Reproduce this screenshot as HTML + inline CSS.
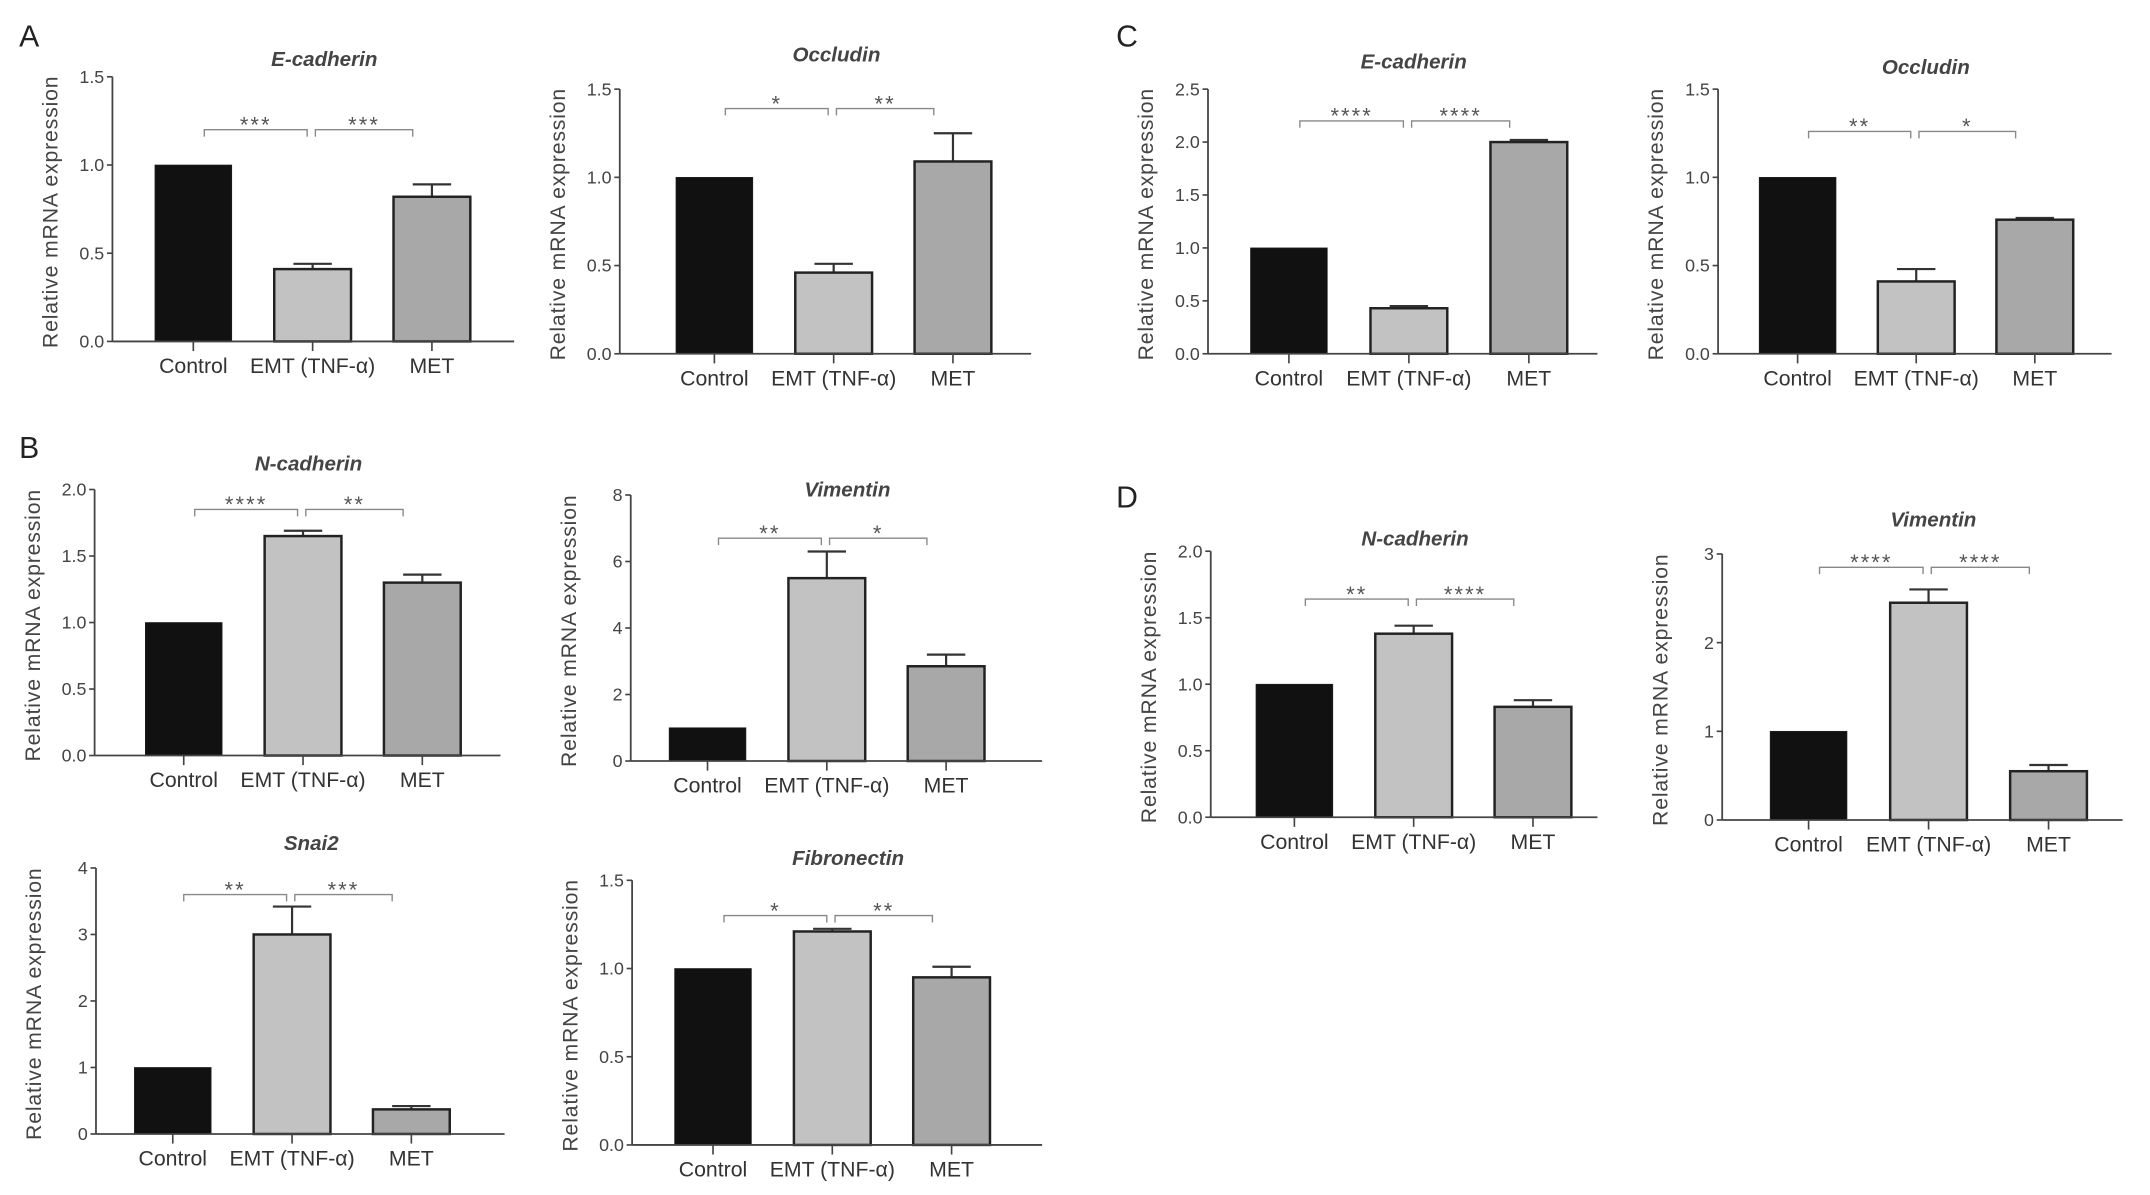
<!DOCTYPE html>
<html><head><meta charset="utf-8">
<style>
html,body{margin:0;padding:0;background:#fff;}
svg{display:block;}
text{font-family:"Liberation Sans",Arial,sans-serif;}
</style></head>
<body>
<svg id="fig" width="2150" height="1195" viewBox="0 0 1568 871.5" preserveAspectRatio="none" xmlns="http://www.w3.org/2000/svg">
<text x="14" y="34" font-size="22" fill="#222">A</text>
<text x="14" y="334" font-size="22" fill="#222">B</text>
<text x="814" y="34" font-size="22" fill="#222">C</text>
<text x="814" y="370" font-size="22" fill="#222">D</text>
</svg>
<script>
const categories = ["Control", "EMT (TNF-\u03b1)", "MET"];
const titles = ["E-cadherin","Occludin","N-cadherin","Vimentin","Snai2","Fibronectin","E-cadherin","Occludin","N-cadherin","Vimentin"];
const means = [[1,0.41,0.82],[1,0.46,1.09],[1,1.65,1.30],[1,5.5,2.85],[1,3.0,0.37],[1,1.21,0.95],[1,0.43,2.0],[1,0.41,0.76],[1,1.38,0.83],[1,2.45,0.55]];
const errs = [[0,0.03,0.07],[0,0.05,0.16],[0,0.04,0.06],[0,0.8,0.35],[0,0.42,0.05],[0,0.015,0.06],[0,0.02,0.02],[0,0.07,0.01],[0,0.06,0.05],[0,0.15,0.07]];
const yMax = [1.5,1.5,2.0,8,4,1.5,2.5,1.5,2.0,3];
const tickLabels = [["0.0","0.5","1.0","1.5"],["0.0","0.5","1.0","1.5"],["0.0","0.5","1.0","1.5","2.0"],["0","2","4","6","8"],["0","1","2","3","4"],["0.0","0.5","1.0","1.5"],["0.0","0.5","1.0","1.5","2.0","2.5"],["0.0","0.5","1.0","1.5"],["0.0","0.5","1.0","1.5","2.0"],["0","1","2","3"]];
const sigLeft = ["***","*","****","**","**","*","****","**","**","****"];
const sigRight = ["***","**","**","*","***","**","****","*","****","****"];
const bracketVal = [1.2,1.39,1.85,6.7,3.6,1.3,2.2,1.26,1.64,2.85];

const layout = [
 {ax:82,top:56,bot:249,end:375,c0:141,dc:87,ty:48},
 {ax:452,top:65,bot:258,end:752,c0:521,dc:87,ty:45},
 {ax:69,top:357,bot:551,end:365,c0:134,dc:87,ty:343},
 {ax:460,top:361,bot:555,end:760,c0:516,dc:87,ty:362},
 {ax:70,top:633,bot:827,end:368,c0:126,dc:87,ty:620},
 {ax:461,top:642,bot:835,end:760,c0:520,dc:87,ty:631},
 {ax:881,top:65,bot:258,end:1165,c0:940,dc:87.5,ty:50},
 {ax:1253,top:65,bot:258,end:1540,c0:1311,dc:86.5,ty:54},
 {ax:883,top:402,bot:596,end:1165,c0:944,dc:87,ty:398},
 {ax:1256,top:404,bot:598,end:1548,c0:1319,dc:87.5,ty:384}
];
const fills = ["#111","#c2c2c2","#a8a8a8"];
const NS = "http://www.w3.org/2000/svg";
const svg = document.getElementById('fig');
function mk(tag, attrs, parent){const e=document.createElementNS(NS,tag);for(const k in attrs)e.setAttribute(k,attrs[k]);(parent||svg).appendChild(e);return e;}

layout.forEach((L,p)=>{
  const g = mk('g',{});
  
  
  const y = v => L.bot - (v / yMax[p]) * (L.bot - L.top);
  const x = i => L.c0 + i * L.dc;
  const bw = 56;
  const t = mk('text',{x:(L.ax+L.end)/2+8,y:L.ty,'font-size':15,'font-style':'italic','font-weight':'bold','text-anchor':'middle',fill:'#444'},g);
  t.textContent = titles[p];
  
  
  const ya = mk('line',{x1:L.ax,y1:L.top,x2:L.ax,y2:L.bot,stroke:'#444','stroke-width':1.3},g);
  
  
  const n = tickLabels[p].length;
  tickLabels[p].forEach((lab,k)=>{
    const v = yMax[p]*k/(n-1);
    mk('line',{x1:L.ax-4,y1:y(v),x2:L.ax,y2:y(v),stroke:'#444','stroke-width':1.2},g);
    const tl = mk('text',{x:L.ax-6,y:y(v)+4.5,'font-size':13,'text-anchor':'end',fill:'#444'},g);
    tl.textContent = lab;
    
    
  });
  const yt = mk('text',{x:0,y:0,'font-size':15.5,'text-anchor':'middle',fill:'#444','letter-spacing':'0.6',transform:`translate(${L.ax-40},${(L.top+L.bot)/2+2}) rotate(-90)`},g);
  yt.textContent = 'Relative mRNA expression';
  
  
  means[p].forEach((m,i)=>{
    const cx = x(i);
    if (errs[p][i] > 0) {
      const ey = y(m + errs[p][i]);
      mk('line',{x1:cx,y1:ey,x2:cx,y2:y(m),stroke:'#333','stroke-width':1.6},g);
      mk('line',{x1:cx-14,y1:ey,x2:cx+14,y2:ey,stroke:'#333','stroke-width':1.6},g);
    }
    const b = mk('rect',{x:cx-bw/2,y:y(m),width:bw,height:L.bot-y(m),fill:fills[i],stroke:'#222','stroke-width':i==0?0.5:1.8},g);
    
    
    mk('line',{x1:cx,y1:L.bot,x2:cx,y2:L.bot+7,stroke:'#444','stroke-width':1.2},g);
    const xl = mk('text',{x:cx,y:L.bot+23,'font-size':15.5,'text-anchor':'middle',fill:'#333'},g);
    xl.textContent = categories[i];
    
    
  });
  const xa = mk('line',{x1:L.ax,y1:L.bot,x2:L.end,y2:L.bot,stroke:'#444','stroke-width':1.3},g);
  
  
  const by = y(bracketVal[p]);
  [[0,1,sigLeft[p]],[1,2,sigRight[p]]].forEach(([a,b2,s],k)=>{
    const x1 = k==0 ? x(a)+8 : x(a)+2, x2 = k==0 ? x(b2)-4 : x(b2)-14;
    const br = mk('path',{d:`M${x1},${by+5} L${x1},${by} L${x2},${by} L${x2},${by+5}`,fill:'none',stroke:'#888','stroke-width':1},g);
    
    
    const st = mk('text',{x:(x1+x2)/2,y:by+2,'font-size':16,'text-anchor':'middle',fill:'#555','letter-spacing':'1.5'},g);
    st.textContent = s;
    
    
  });
});
</script>
</body></html>
